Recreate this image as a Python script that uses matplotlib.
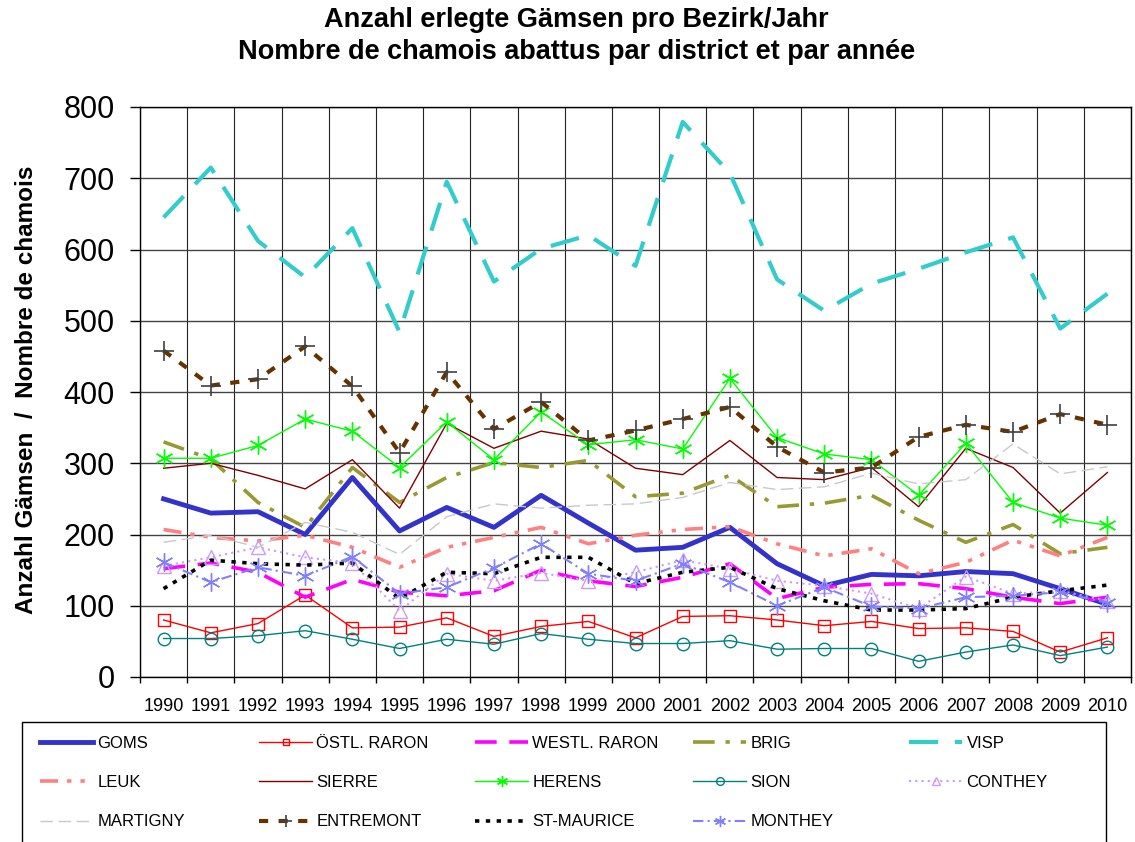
import matplotlib
matplotlib.use("Agg")
import matplotlib.pyplot as plt
from matplotlib.patches import Rectangle
import numpy as np

years = list(range(1990, 2011))

goms        = [250, 230, 232, 200, 280, 205, 238, 210, 255, 216, 178, 182, 210, 159, 128, 144, 142, 148, 145, 124, 102]
ostl_raron  = [80, 62, 75, 115, 69, 70, 83, 57, 71, 78, 55, 85, 86, 80, 72, 78, 68, 69, 64, 35, 55]
westl_raron = [152, 160, 147, 112, 137, 119, 114, 121, 150, 135, 127, 140, 159, 110, 126, 130, 131, 124, 112, 103, 112]
brig        = [330, 306, 245, 210, 294, 245, 280, 301, 294, 304, 253, 258, 283, 239, 244, 255, 220, 189, 214, 173, 182]
visp        = [645, 715, 612, 561, 630, 484, 695, 555, 601, 620, 577, 779, 707, 558, 514, 552, 573, 596, 617, 489, 538]
leuk        = [207, 196, 191, 199, 182, 154, 182, 196, 210, 187, 199, 207, 211, 187, 170, 180, 145, 161, 192, 170, 196]
sierre      = [293, 300, 283, 264, 305, 237, 356, 321, 345, 334, 293, 284, 332, 280, 277, 294, 239, 321, 294, 230, 287]
herens      = [307, 307, 325, 362, 345, 294, 358, 305, 372, 326, 333, 320, 419, 336, 313, 305, 255, 328, 245, 223, 213]
sion        = [54, 54, 58, 65, 53, 40, 53, 46, 61, 53, 47, 47, 51, 39, 40, 40, 22, 35, 45, 30, 42]
conthey     = [156, 168, 182, 168, 160, 93, 145, 135, 146, 135, 147, 164, 152, 135, 128, 117, 96, 141, 117, 121, 107]
martigny    = [189, 199, 182, 217, 203, 172, 225, 243, 237, 241, 243, 252, 273, 263, 267, 286, 271, 277, 327, 285, 295]
entremont   = [458, 409, 418, 464, 408, 315, 428, 348, 386, 332, 346, 362, 379, 323, 287, 294, 337, 354, 344, 369, 354]
st_maurice  = [124, 164, 159, 157, 160, 110, 147, 145, 168, 168, 131, 147, 154, 124, 107, 94, 94, 96, 112, 121, 129]
monthey     = [161, 133, 154, 142, 169, 117, 126, 153, 187, 145, 135, 159, 133, 100, 126, 99, 96, 112, 114, 119, 104]

series_names = ["GOMS", "ÖSTL. RARON", "WESTL. RARON", "BRIG", "VISP",
                "LEUK", "SIERRE", "HERENS", "SION", "CONTHEY",
                "MARTIGNY", "ENTREMONT", "ST-MAURICE", "MONTHEY"]
series_values = [goms, ostl_raron, westl_raron, brig, visp,
                 leuk, sierre, herens, sion, conthey,
                 martigny, entremont, st_maurice, monthey]

ast = (6, 2, 0)
styles = {
    "GOMS":        dict(color="#3333CC", lw=3.5, ls="-"),
    "ÖSTL. RARON": dict(color="#FF0000", lw=1.0, ls="-", marker="s", ms=8, mfc="none", mec="#FF0000", mew=1.0),
    "WESTL. RARON":dict(color="#FF00FF", lw=2.6, ls=(0, (6, 3.5))),
    "BRIG":        dict(color="#999933", lw=2.6, ls=(0, (6, 3, 1.2, 3))),
    "VISP":        dict(color="#33CCCC", lw=3.0, ls=(0, (7, 4))),
    "LEUK":        dict(color="#FF8080", lw=2.6, ls=(0, (5, 2.5, 1.2, 2.5, 1.2, 2.5))),
    "SIERRE":      dict(color="#800000", lw=1.0, ls="-"),
    "HERENS":      dict(color="#00FF00", lw=1.0, ls="-", marker=ast, ms=13, mec="#00FF00", mew=1.0),
    "SION":        dict(color="#008080", lw=1.0, ls="-", marker="o", ms=9, mfc="none", mec="#008080", mew=1.0),
    "CONTHEY":     dict(color="#CC99FF", lw=1.5, ls=(0, (1, 2)), marker="^", ms=10, mfc="none", mec="#CC99FF", mew=1.0),
    "MARTIGNY":    dict(color="#C8C8C8", lw=1.0, ls=(0, (9, 4))),
    "ENTREMONT":   dict(color="#663300", lw=3.0, ls=(0, (2.2, 2.5)), marker="+", ms=15, mec="#404040", mew=1.2),
    "ST-MAURICE":  dict(color="#000000", lw=2.6, ls=(0, (1.2, 1.8))),
    "MONTHEY":     dict(color="#8080FF", lw=1.5, ls=(0, (5, 2, 1, 2)), marker=ast, ms=13, mec="#8080FF", mew=1.0),
}

W, H = 1135, 842
fig = plt.figure(figsize=(W / 100, H / 100), dpi=100)
plt.rcParams['font.family'] = ['Liberation Sans', 'DejaVu Sans']
ax = fig.add_axes([140 / W, 1 - 677 / H, (1131 - 140) / W, (677 - 107) / H])

x = np.arange(len(years))
handles = {}
for name, vals in zip(series_names, series_values):
    h, = ax.plot(x, vals, label=name, **styles[name])
    handles[name] = h

ax.set_xlim(-0.5, len(years) - 0.5)
ax.set_ylim(0, 800)
ax.set_yticks(range(0, 801, 100))
ax.set_xticks(x)
ax.set_xticklabels([str(y) for y in years], fontsize=13)
ax.set_xticks(np.arange(-0.5, len(years), 1), minor=True)
ax.tick_params(axis='y', labelsize=22, length=7, width=1.0, direction='out', pad=11)
ax.tick_params(axis='x', which='major', length=0, pad=15)
ax.tick_params(axis='x', which='minor', length=4, width=1.0, direction='out')
ax.grid(True, axis='y', which='major', color='#444444', lw=1.0)
ax.grid(True, axis='x', which='minor', color='#222222', lw=0.8)
ax.set_axisbelow(True)
for s in ax.spines.values():
    s.set_color('black')
    s.set_linewidth(1.0)

fig.text(0.508, 1 - 20 / H, "Anzahl erlegte Gämsen pro Bezirk/Jahr", ha='center', va='center',
         fontsize=19.5, fontweight='bold')
fig.text(0.508, 1 - 52 / H, "Nombre de chamois abattus par district et par année", ha='center', va='center',
         fontsize=19.5, fontweight='bold')
fig.text(27 / W, 1 - 390 / H, "Anzahl Gämsen  /  Nombre de chamois", rotation=90, ha='center', va='center',
         fontsize=17.5, fontweight='bold')

# legend: 5 columns, row-major order as in the reference
columns = [["GOMS", "LEUK", "MARTIGNY"],
           ["ÖSTL. RARON", "SIERRE", "ENTREMONT"],
           ["WESTL. RARON", "HERENS", "ST-MAURICE"],
           ["BRIG", "SION", "MONTHEY"],
           ["VISP", "CONTHEY"]]
col_x = [40, 259, 475, 693, 909]
for cx, names in zip(col_x, columns):
    leg = fig.legend(handles=[handles[n] for n in names], labels=names, loc='upper left',
                     bbox_to_anchor=(cx / W, 1 - 736 / H), frameon=False,
                     fontsize=12, handlelength=3.2, handletextpad=0.25, labelspacing=1.45,
                     borderpad=0.0, borderaxespad=0.0)
    for lh in leg.legend_handles:
        lh.set_markersize(lh.get_markersize() * 0.62)

fig.add_artist(Rectangle((22 / W, -0.02), (1106 - 22) / W, 0.02 + (842 - 722) / H,
                         transform=fig.transFigure, fill=False, edgecolor='black', lw=1.0))

fig.savefig("out.png", dpi=100)
